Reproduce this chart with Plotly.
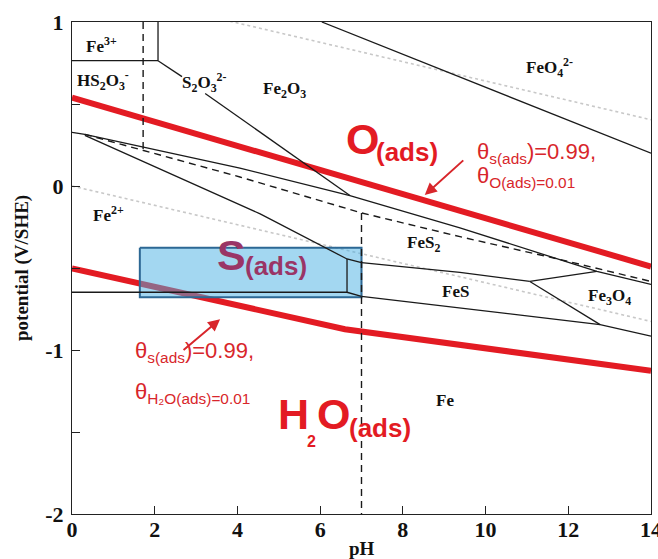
import plotly.graph_objects as go

# ---------------- axis ticks ----------------
x_tickvals = [0, 2, 4, 6, 8, 10, 12, 14]
y_tickvals = [-2, -1.5, -1, -0.5, 0, 0.5, 1]
y_ticktext = ['-2', '', '-1', '', '0', '', '1']

# ---------------- solid black boundaries (pH, E) ----------------
fe3_low_ph = [0, 2.08];            fe3_low_E = [0.764, 0.764]
fe3_right_ph = [2.08, 2.08];       fe3_right_E = [1.0, 0.764]
s2o3_a_ph = [2.08, 2.66];          s2o3_a_E = [0.764, 0.667]
s2o3_b_ph = [3.22, 6.72];          s2o3_b_E = [0.564, -0.058]
feo4_ph = [6.04, 14];              feo4_E = [1.0, 0.2]
fes2_top_ph = [0, 0.31, 4.06, 6.72, 9.38, 12.69, 14]
fes2_top_E = [0.327, 0.315, 0.109, -0.058, -0.255, -0.521, -0.6]
fes2_left_ph = [0.31, 4.55, 6.65, 7.0]
fes2_left_E = [0.309, -0.17, -0.445, -0.467]
fes2_fes_ph = [7.0, 9.38, 11.07];  fes2_fes_E = [-0.467, -0.527, -0.582]
fes_up_ph = [11.07, 12.69];        fes_up_E = [-0.582, -0.521]
fes_fe3o4_ph = [11.07, 12.77];     fes_fe3o4_E = [-0.582, -0.845]
fe_low_ph = [7.0, 12.77, 14];      fe_low_E = [-0.673, -0.845, -0.915]
fe2_fe_ph = [0, 6.65, 7.0];        fe2_fe_E = [-0.648, -0.648, -0.673]
fe2_vert_ph = [6.65, 6.65];        fe2_vert_E = [-0.445, -0.648]

# ---------------- dashed black boundaries ----------------
s_dash_ph = [0.31, 4.06, 7.0, 9.38, 11.8, 14]
s_dash_E = [0.315, 0.055, -0.164, -0.309, -0.448, -0.582]
vdash1_ph = [1.72, 1.72];          vdash1_E = [1.0, 0.218]
vdash7_ph = [7.0, 7.0];            vdash7_E = [-0.164, -2.0]

# ---------------- water stability lines (dotted) ----------------
o2_ph = [0, 14];                   o2_E = [1.23, 0.404]
h2_ph = [0, 14];                   h2_E = [0.0, -0.826]

# ---------------- red adsorption lines ----------------
oads_ph = [0, 14];                 oads_E = [0.539, -0.491]
h2oads_ph = [0, 6.6, 14];          h2oads_E = [-0.503, -0.873, -1.127]

# ---------------- S(ads) box ----------------
box_ph = [1.64, 7.0]
box_E = [-0.679, -0.376]

# ---------------- region labels ----------------
region_text = ['Fe<sup>3+</sup>', 'HS<sub>2</sub>O<sub>3</sub><sup>-</sup>',
               'S<sub>2</sub>O<sub>3</sub><sup>2-</sup>', 'Fe<sub>2</sub>O<sub>3</sub>',
               'FeO<sub>4</sub><sup>2-</sup>', 'Fe<sup>2+</sup>', 'FeS<sub>2</sub>',
               'FeS', 'Fe<sub>3</sub>O<sub>4</sub>', 'Fe']
region_ph = [0.72, 0.75, 3.2, 5.15, 11.55, 0.88, 8.49, 9.28, 13.0, 9.02]
region_E = [0.86, 0.645, 0.63, 0.585, 0.72, -0.17, -0.355, -0.645, -0.675, -1.31]

fig = go.Figure()

def add_line(xs, ys, color='#1a1a1a', width=1.3, dash='solid', opacity=1.0):
    fig.add_trace(go.Scatter(x=xs, y=ys, mode='lines', hoverinfo='skip',
                             line=dict(color=color, width=width, dash=dash),
                             opacity=opacity, showlegend=False))

# dotted water lines
add_line(o2_ph, o2_E, color='#c8c8c8', width=1.6, dash='dot')
add_line(h2_ph, h2_E, color='#c8c8c8', width=1.6, dash='dot')

# red lines
RED = '#e31b23'
add_line(oads_ph, oads_E, color=RED, width=6)
add_line(h2oads_ph, h2oads_E, color=RED, width=6)

# box
fig.add_trace(go.Scatter(
    x=[box_ph[0], box_ph[1], box_ph[1], box_ph[0], box_ph[0]],
    y=[box_E[1], box_E[1], box_E[0], box_E[0], box_E[1]],
    mode='lines', fill='toself', fillcolor='rgba(71,175,227,0.5)',
    line=dict(color='#2d6894', width=2), hoverinfo='skip', showlegend=False))

# black solid lines
for xs, ys in [(fe3_low_ph, fe3_low_E), (fe3_right_ph, fe3_right_E),
               (s2o3_a_ph, s2o3_a_E), (s2o3_b_ph, s2o3_b_E), (feo4_ph, feo4_E),
               (fes2_top_ph, fes2_top_E), (fes2_left_ph, fes2_left_E),
               (fes2_fes_ph, fes2_fes_E), (fes_up_ph, fes_up_E),
               (fes_fe3o4_ph, fes_fe3o4_E), (fe_low_ph, fe_low_E),
               (fe2_fe_ph, fe2_fe_E), (fe2_vert_ph, fe2_vert_E)]:
    add_line(xs, ys)

# dashed lines
for xs, ys in [(s_dash_ph, s_dash_E), (vdash1_ph, vdash1_E), (vdash7_ph, vdash7_E)]:
    add_line(xs, ys, dash='7px,5px', width=1.4)

SERIF = 'Liberation Serif'
SANS = 'Liberation Sans'
ann = []
for t, xv, yv in zip(region_text, region_ph, region_E):
    ann.append(dict(x=xv, y=yv, xref='x', yref='y', text=t, showarrow=False,
                    font=dict(family=SERIF, size=17, color='#111', weight='bold')))

def big(text, xv, yv, size, color):
    ann.append(dict(x=xv, y=yv, xref='x', yref='y', text=text, showarrow=False,
                    font=dict(family=SANS, size=size, color=color, weight='bold')))

# O(ads)
big('O', 7.03, 0.285, 43, RED)
big('(ads)', 8.1, 0.21, 26, RED)
# S(ads)
SCOL = '#9a3566'
big('S', 3.86, -0.42, 43, SCOL)
big('(ads)', 4.94, -0.49, 26, SCOL)
# H2O(ads)
big('H', 5.36, -1.39, 43, RED)
big('2', 5.78, -1.555, 16, RED)
big('O', 6.33, -1.39, 43, RED)
big('(ads)', 7.45, -1.475, 26, RED)

TCOL = '#d8262b'
def theta(text, xv, yv):
    ann.append(dict(x=xv, y=yv, xref='x', yref='y', text=text, showarrow=False,
                    xanchor='left', yanchor='middle',
                    font=dict(family=SANS, size=22, color=TCOL)))

theta('θ<sub>s(ads</sub>)=0.99,', 9.74, 0.2)
theta('θ<sub>O(ads)=0.01</sub>', 9.74, 0.055)
theta('θ<sub>s(ads</sub>)=0.99,', 1.47, -1.012)
theta('θ<sub>H₂O(ads)=0.01</sub>', 1.47, -1.265)

# arrows
ann.append(dict(x=8.53, y=-0.055, xref='x', yref='y', text='', showarrow=True,
                ax=40, ay=-36, arrowhead=2, arrowsize=1.2, arrowwidth=2, arrowcolor=TCOL))
ann.append(dict(x=3.58, y=-0.812, xref='x', yref='y', text='', showarrow=True,
                ax=-38, ay=32, arrowhead=2, arrowsize=1.2, arrowwidth=2, arrowcolor=TCOL))

# axis titles
ann.append(dict(x=0, y=0.5, xref='paper', yref='paper', xshift=-50, text='potential (V/SHE)',
                textangle=-90, showarrow=False, xanchor='center', yanchor='middle',
                font=dict(family=SERIF, size=19, color='#111', weight='bold')))
ann.append(dict(x=0.5, y=0, xref='paper', yref='paper', yshift=-34, text='pH',
                showarrow=False, xanchor='center', yanchor='middle',
                font=dict(family=SERIF, size=19, color='#111', weight='bold')))

fig.update_layout(
    width=658, height=559,
    margin=dict(l=72, r=7, t=22, b=45),
    plot_bgcolor='white', paper_bgcolor='white',
    showlegend=False,
    annotations=ann,
    xaxis=dict(range=[0, 14], tickvals=x_tickvals, ticks='inside', ticklen=8,
               tickcolor='#222', showline=True, linecolor='#222', linewidth=1.2,
               mirror=True, showgrid=False, zeroline=False, automargin=False,
               ticklabelstandoff=-5, ticklabeloverflow='allow',
               tickfont=dict(family=SERIF, size=22, color='#111', weight='bold')),
    yaxis=dict(range=[-2, 1], tickvals=y_tickvals, ticktext=y_ticktext,
               ticks='inside', ticklen=8, tickcolor='#222', showline=True,
               linecolor='#222', linewidth=1.2, mirror=True, showgrid=False,
               zeroline=False, automargin=False, ticklabelstandoff=3,
               ticklabeloverflow='allow',
               tickfont=dict(family=SERIF, size=22, color='#111', weight='bold')),
)

# remove the page's default body margin so the 658x559 figure fills the window exactly
fig.write_html('out.html', config={'displayModeBar': False},
               post_script="document.body.style.margin='0';document.body.style.overflow='hidden';")
